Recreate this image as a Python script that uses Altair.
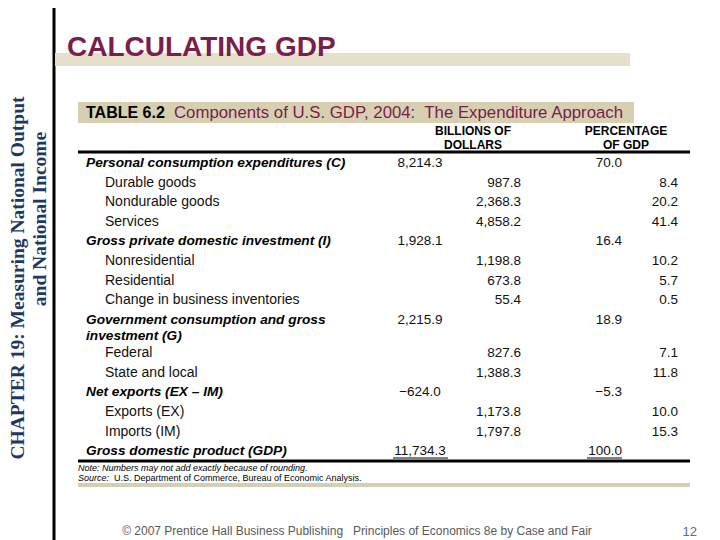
import altair as alt
import pandas as pd

# ---------------- data ----------------
slide_title = "CALCULATING GDP"
chapter_lines = ["CHAPTER 19: Measuring National Output", "and National Income"]
table_number = "TABLE 6.2"
table_title = "Components of U.S. GDP, 2004:\u00a0 The Expenditure Approach"
col_header_billions = ["BILLIONS OF", "DOLLARS"]
col_header_percent = ["PERCENTAGE", "OF GDP"]

row_labels = [
    "Personal consumption expenditures (C)",
    "Durable goods",
    "Nondurable goods",
    "Services",
    "Gross private domestic investment (I)",
    "Nonresidential",
    "Residential",
    "Change in business inventories",
    "Government consumption and gross\ninvestment (G)",
    "Federal",
    "State and local",
    "Net exports (EX – IM)",
    "Exports (EX)",
    "Imports (IM)",
    "Gross domestic product (GDP)",
]
row_levels = [0, 1, 1, 1, 0, 1, 1, 1, 0, 1, 1, 0, 1, 1, 0]
billions = [8214.3, 987.8, 2368.3, 4858.2, 1928.1, 1198.8, 673.8, 55.4,
            2215.9, 827.6, 1388.3, -624.0, 1173.8, 1797.8, 11734.3]
percent_gdp = [70.0, 8.4, 20.2, 41.4, 16.4, 10.2, 5.7, 0.5,
               18.9, 7.1, 11.8, -5.3, 10.0, 15.3, 100.0]

note_text = "Note: Numbers may not add exactly because of rounding."
source_label = "Source:"
source_text = "U.S. Department of Commerce, Bureau of Economic Analysis."
footer_text = "© 2007 Prentice Hall Business Publishing\u00a0\u00a0 Principles of Economics 8e by Case and Fair"
page_number = "12"

# ---------------- layout ----------------
W, H = 704, 532
MAROON = "#7A1E4A"
NAVY = "#1F3763"
SANS = "Liberation Sans"
SERIF = "Liberation Serif"

X = alt.X("x:Q", scale=alt.Scale(domain=[8, 8 + W], nice=False, zero=False), axis=None)
Y = alt.Y("y:Q", scale=alt.Scale(domain=[8, 8 + H], reverse=True, nice=False, zero=False), axis=None)
X2 = alt.X2("x2:Q")
Y2 = alt.Y2("y2:Q")

ROW0, ROW_STEP = 163, 19.6


def row_y(i):
    return ROW0 + ROW_STEP * (i + (0.7 if i >= 9 else 0))


# table rows
label_recs, num_recs = [], []
for i, (lab, lev) in enumerate(zip(row_labels, row_levels)):
    for k, part in enumerate(lab.split("\n")):
        label_recs.append({"x": 86 if lev == 0 else 105, "y": row_y(i) + 16 * k,
                           "text": part, "level": lev})
    num_recs.append({"i": i, "level": lev, "y": row_y(i), "b": billions[i], "p": percent_gdp[i]})
labels_df = pd.DataFrame(label_recs)
nums_df = pd.DataFrame(num_recs)


def text_layer(df, **kw):
    return alt.Chart(df).mark_text(baseline="middle", **kw).encode(x=X, y=Y, text="text:N")


layers = []

# decorations (rules / bands)
vline = pd.DataFrame([{"x": 54, "y": 0, "y2": 540}])
layers.append(alt.Chart(vline).mark_rule(color="black", strokeWidth=3).encode(x=X, y=Y, y2=Y2))

bands = pd.DataFrame([
    {"x": 55, "x2": 630, "y": 53, "y2": 66, "c": "#E6E0CB"},
    {"x": 78, "x2": 634, "y": 102, "y2": 123, "c": "#D6CFB1"},
    {"x": 78, "x2": 690, "y": 483, "y2": 487, "c": "#D3CFB5"},
])
layers.append(alt.Chart(bands).mark_rect().encode(
    x=X, x2=X2, y=Y, y2=Y2, color=alt.Color("c:N", scale=None)))

hrules = pd.DataFrame([
    {"x": 78, "x2": 690, "y": 152, "w": 3},
    {"x": 78, "x2": 690, "y": 461, "w": 3},
    {"x": 393, "x2": 448, "y": 458, "w": 1},
    {"x": 587, "x2": 622, "y": 458, "w": 1},
])
layers.append(alt.Chart(hrules).mark_rule(color="black").encode(
    x=X, x2=X2, y=Y, strokeWidth=alt.StrokeWidth("w:Q", scale=None)))

# slide title
layers.append(text_layer(pd.DataFrame([{"x": 67, "y": 48, "text": slide_title}]),
                         align="left", font=SANS, fontSize=28, fontWeight="bold", color=MAROON))

# chapter text (rotated)
chap = pd.DataFrame([
    {"x": 18, "y": 278, "text": chapter_lines[0]},
    {"x": 40, "y": 219, "text": chapter_lines[1]},
])
layers.append(text_layer(chap, align="center", angle=270, font=SERIF, fontSize=19.5,
                         fontWeight="bold", color=NAVY))

# table title
layers.append(text_layer(pd.DataFrame([{"x": 86, "y": 113, "text": table_number}]),
                         align="left", font=SANS, fontSize=16, fontWeight="bold", color="black"))
layers.append(text_layer(pd.DataFrame([{"x": 174, "y": 113, "text": table_title}]),
                         align="left", font=SANS, fontSize=16.8, color=MAROON))

# column headers
heads = pd.DataFrame([
    {"x": 473, "y": 131, "text": col_header_billions[0]},
    {"x": 473, "y": 145, "text": col_header_billions[1]},
    {"x": 626, "y": 131, "text": col_header_percent[0]},
    {"x": 626, "y": 145, "text": col_header_percent[1]},
])
layers.append(text_layer(heads, align="center", font=SANS, fontSize=12, fontWeight="bold",
                         color="black"))

# row labels
layers.append(text_layer(labels_df[labels_df.level == 0], align="left", font=SANS, fontSize=13.7,
                         fontWeight="bold", fontStyle="italic", color="black"))
layers.append(text_layer(labels_df[labels_df.level == 1], align="left", font=SANS, fontSize=14,
                         color="#111111"))

# numbers
main = nums_df[nums_df.level == 0].copy()
sub = nums_df[nums_df.level == 1].copy()
main_b = main.assign(x=420)
main_p = main.assign(x=622)
sub_b = sub.assign(x=521)
sub_p = sub.assign(x=678)


def num_layer(df, field, align):
    return alt.Chart(df).mark_text(baseline="middle", align=align, font=SANS, fontSize=13.5,
                                   color="#111111").encode(
        x=X, y=Y, text=alt.Text(f"{field}:Q", format=",.1f"))


layers.append(num_layer(main_b, "b", "center"))
layers.append(num_layer(main_p, "p", "right"))
layers.append(num_layer(sub_b, "b", "right"))
layers.append(num_layer(sub_p, "p", "right"))

# notes
layers.append(text_layer(pd.DataFrame([{"x": 78, "y": 468, "text": note_text}]),
                         align="left", font=SANS, fontSize=9, fontStyle="italic", color="black"))
layers.append(text_layer(pd.DataFrame([{"x": 78, "y": 478, "text": source_label}]),
                         align="left", font=SANS, fontSize=9, fontStyle="italic", color="black"))
layers.append(text_layer(pd.DataFrame([{"x": 114, "y": 478, "text": source_text}]),
                         align="left", font=SANS, fontSize=9, color="black"))

# footer
layers.append(text_layer(pd.DataFrame([{"x": 357, "y": 531, "text": footer_text}]),
                         align="center", font=SANS, fontSize=12, color="#5A5A5A"))
layers.append(text_layer(pd.DataFrame([{"x": 697, "y": 532, "text": page_number}]),
                         align="right", font=SANS, fontSize=13, color="#4F6F8F"))

chart = alt.layer(*layers).properties(
    width=W, height=H, padding=0, autosize=alt.AutoSizeParams(type="none"),
    background="white",
).configure_view(stroke=None)

chart.save("out.html", embed_options={"renderer": "svg", "actions": False})
